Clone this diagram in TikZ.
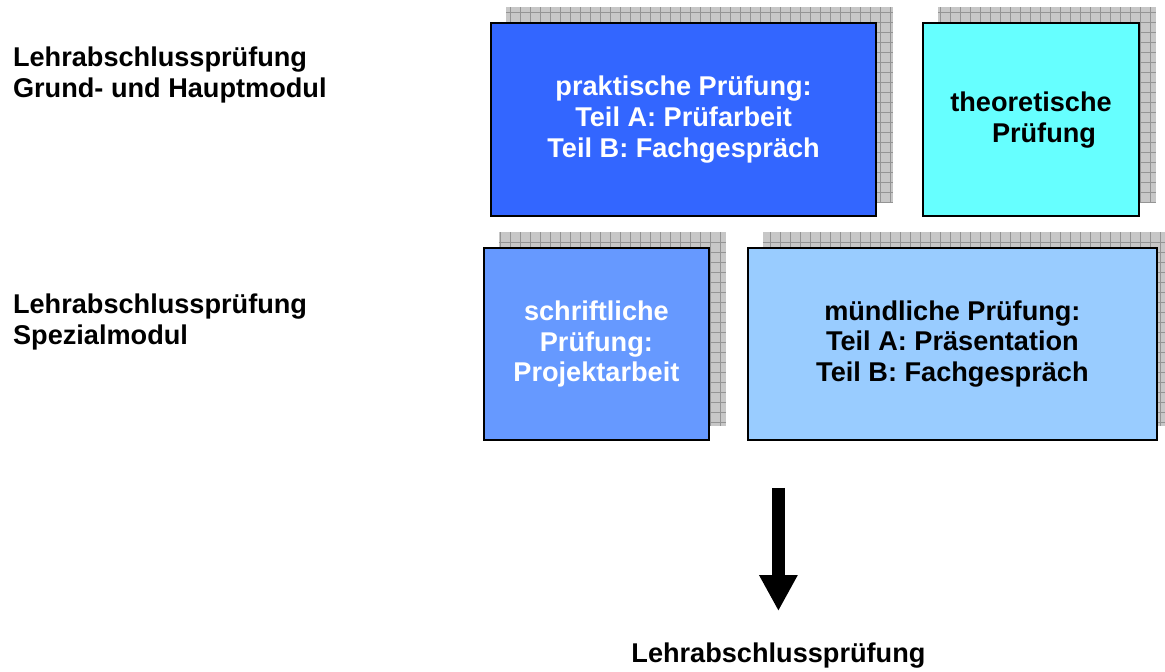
\documentclass[tikz,border=0pt]{standalone}
\usepackage{fontspec}
\setmainfont{Liberation Sans}
\usepackage{xcolor}
\usetikzlibrary{arrows.meta,backgrounds}

\definecolor{praktblue}{HTML}{3366FF}
\definecolor{theocyan}{HTML}{66FFFF}
\definecolor{schrblue}{HTML}{6699FF}
\definecolor{muendblue}{HTML}{99CCFF}

\begin{document}
\begin{tikzpicture}[font=\bfseries\fontsize{19.3}{22}\selectfont,
    examBox/.style={draw=black, line width=1.3pt, inner sep=0pt, align=center},
    sideLabel/.style={anchor=north west, inner sep=0pt, align=left},
    shadowFill/.style={fill=black!22},
    shadowGrid/.style={draw=black!42, line width=0.5pt}]
  \useasboundingbox (0,0) rectangle (29.125,16.8);

  % row labels on the left
  \node[sideLabel] (lbl1) at (0.32,15.63) {Lehrabschlussprüfung\\Grund- und Hauptmodul};
  \node[sideLabel] (lbl2) at (0.32,9.45) {Lehrabschlussprüfung\\Spezialmodul};

  % Grund- und Hauptmodul
  \node[examBox, fill=praktblue, text=white, minimum width=9.625cm, minimum height=4.825cm]
    (prakt) at (17.09,13.81) {praktische Prüfung:\\Teil A: Prüfarbeit\\Teil B: Fachgespräch};
  \node[examBox, fill=theocyan, minimum width=5.4cm, minimum height=4.825cm]
    (theo) at (25.775,13.81) {theoretische\\\hspace*{0.65cm}Prüfung};

  % Spezialmodul
  \node[examBox, fill=schrblue, text=white, minimum width=5.625cm, minimum height=4.8cm]
    (schr) at (14.91,8.2) {schriftliche\\Prüfung:\\Projektarbeit};
  \node[examBox, fill=muendblue, minimum width=10.225cm, minimum height=4.8cm]
    (muend) at (23.81,8.2) {mündliche Prüfung:\\Teil A: Präsentation\\Teil B: Fachgespräch};

  % hatched shadows behind the boxes
  \begin{scope}[on background layer]
    \foreach \b in {prakt,theo,schr,muend} {
      \fill[shadowFill] ([shift={(0.4,0.375)}]\b.south west) rectangle ([shift={(0.4,0.375)}]\b.north east);
      \draw[shadowGrid, step=0.25cm] ([shift={(0.4,0.375)}]\b.south west) grid ([shift={(0.4,0.375)}]\b.north east);
    }
  \end{scope}

  % result
  \node[anchor=base, inner sep=0pt] (final) at (19.46,0.225) {Lehrabschlussprüfung};
  \coordinate (arrtop) at (19.46,4.6);
  \draw[line width=0.325cm, -{Triangle[width=0.9cm, length=0.9cm]}, shorten >=0.8cm]
    (arrtop) -- (arrtop |- final.north);
\end{tikzpicture}
\end{document}
